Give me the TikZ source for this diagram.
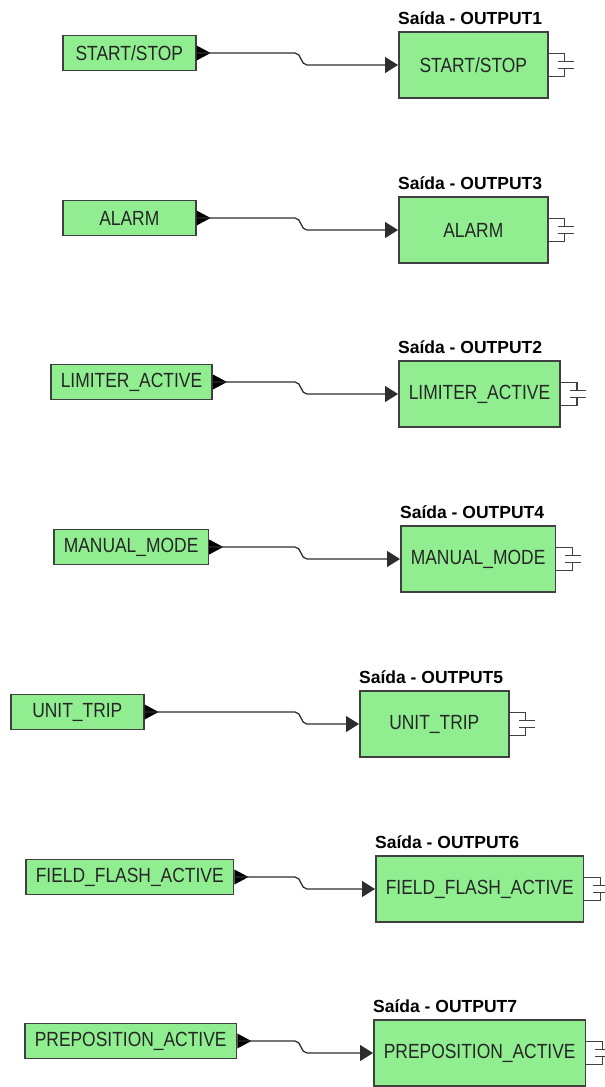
\documentclass[tikz,border=0pt]{standalone}
\usepackage{fontspec}
\setmainfont{Liberation Sans}
\newfontfamily\blockfont[FakeStretch=0.85]{Liberation Sans}
\usepackage{tikz}
\usetikzlibrary{positioning,arrows.meta,calc}
\definecolor{blockgreen}{RGB}{144,238,144}
\definecolor{edgegray}{RGB}{64,64,64}
\definecolor{wiregray}{RGB}{45,45,45}
\tikzset{
  input-block/.style={draw=edgegray, line width=1.6pt, fill=blockgreen, anchor=west,
    minimum width=133pt, minimum height=35pt, inner xsep=10pt, inner ysep=0pt,
    font=\blockfont\fontsize{20.5}{22}\selectfont, text=black!85},
  output-block/.style={input-block, minimum width=149pt, minimum height=66pt},
  output-title/.style={anchor=base west, yshift=7pt, inner sep=0pt,
    font=\fontsize{17.5}{19}\selectfont\bfseries, text=black},
  signal-wire/.style={-{Triangle[length=13pt, width=16pt]}, line width=1.3pt, draw=wiregray},
  out-port/.pic={\fill[black] (0,-7.5) -- (14,0) -- (0,7.5) -- cycle;},
  socket/.pic={\draw[edgegray, line width=1.3pt]
      (0,-11.5) -- (16,-11.5) -- (16,-3.3)
      (16,3.3) -- (16,11.5) -- (0,11.5)
      (9,-3.3) -- (25,-3.3)
      (9,3.3) -- (25,3.3);}
}

\begin{document}
\begin{tikzpicture}[x=1pt, y=-1pt]
\useasboundingbox (0,0) rectangle (605,1087);
% jog points of the wires
\coordinate (jogA) at (295,0);
\coordinate (jogB) at (307,0);

% Row 1: START/STOP
\node[input-block] (startsig) at (62,53) {START/STOP};
\node[output-block] (startout) at (398,65) {START/STOP};
\node[output-title] (starttitle) at (startout.north west) {Saída - OUTPUT1};
\pic at (startsig.east) {out-port};
\pic at (startout.east) {socket};
\draw[signal-wire] (startsig.east) -- (startsig.east -| jogA) to[out=0, in=180] (startout.west -| jogB) -- (startout.west);

% Row 2: ALARM
\node[input-block] (alarmsig) at (62,218) {ALARM};
\node[output-block] (alarmout) at (398,230) {ALARM};
\node[output-title] (alarmtitle) at (alarmout.north west) {Saída - OUTPUT3};
\pic at (alarmsig.east) {out-port};
\pic at (alarmout.east) {socket};
\draw[signal-wire] (alarmsig.east) -- (alarmsig.east -| jogA) to[out=0, in=180] (alarmout.west -| jogB) -- (alarmout.west);

% Row 3: LIMITER_ACTIVE
\node[input-block] (limitsig) at (50,382) {LIMITER\_ACTIVE};
\node[output-block] (limitout) at (398,394) {LIMITER\_ACTIVE};
\node[output-title] (limittitle) at (limitout.north west) {Saída - OUTPUT2};
\pic at (limitsig.east) {out-port};
\pic at (limitout.east) {socket};
\draw[signal-wire] (limitsig.east) -- (limitsig.east -| jogA) to[out=0, in=180] (limitout.west -| jogB) -- (limitout.west);

% Row 4: MANUAL_MODE
\node[input-block] (manualsig) at (53,547) {MANUAL\_MODE};
\node[output-block] (manualout) at (400,559) {MANUAL\_MODE};
\node[output-title] (manualtitle) at (manualout.north west) {Saída - OUTPUT4};
\pic at (manualsig.east) {out-port};
\pic at (manualout.east) {socket};
\draw[signal-wire] (manualsig.east) -- (manualsig.east -| jogA) to[out=0, in=180] (manualout.west -| jogB) -- (manualout.west);

% Row 5: UNIT_TRIP
\node[input-block] (tripsig) at (10,712) {UNIT\_TRIP};
\node[output-block] (tripout) at (359,724) {UNIT\_TRIP};
\node[output-title] (triptitle) at (tripout.north west) {Saída - OUTPUT5};
\pic at (tripsig.east) {out-port};
\pic at (tripout.east) {socket};
\draw[signal-wire] (tripsig.east) -- (tripsig.east -| jogA) to[out=0, in=180] (tripout.west -| jogB) -- (tripout.west);

% Row 6: FIELD_FLASH_ACTIVE
\node[input-block] (flashsig) at (25,877) {FIELD\_FLASH\_ACTIVE};
\node[output-block] (flashout) at (375,889) {FIELD\_FLASH\_ACTIVE};
\node[output-title] (flashtitle) at (flashout.north west) {Saída - OUTPUT6};
\pic at (flashsig.east) {out-port};
\pic at (flashout.east) {socket};
\draw[signal-wire] (flashsig.east) -- (flashsig.east -| jogA) to[out=0, in=180] (flashout.west -| jogB) -- (flashout.west);

% Row 7: PREPOSITION_ACTIVE
\node[input-block] (presig) at (24,1041) {PREPOSITION\_ACTIVE};
\node[output-block] (preout) at (373,1053) {PREPOSITION\_ACTIVE};
\node[output-title] (pretitle) at (preout.north west) {Saída - OUTPUT7};
\pic at (presig.east) {out-port};
\pic at (preout.east) {socket};
\draw[signal-wire] (presig.east) -- (presig.east -| jogA) to[out=0, in=180] (preout.west -| jogB) -- (preout.west);
\end{tikzpicture}
\end{document}
